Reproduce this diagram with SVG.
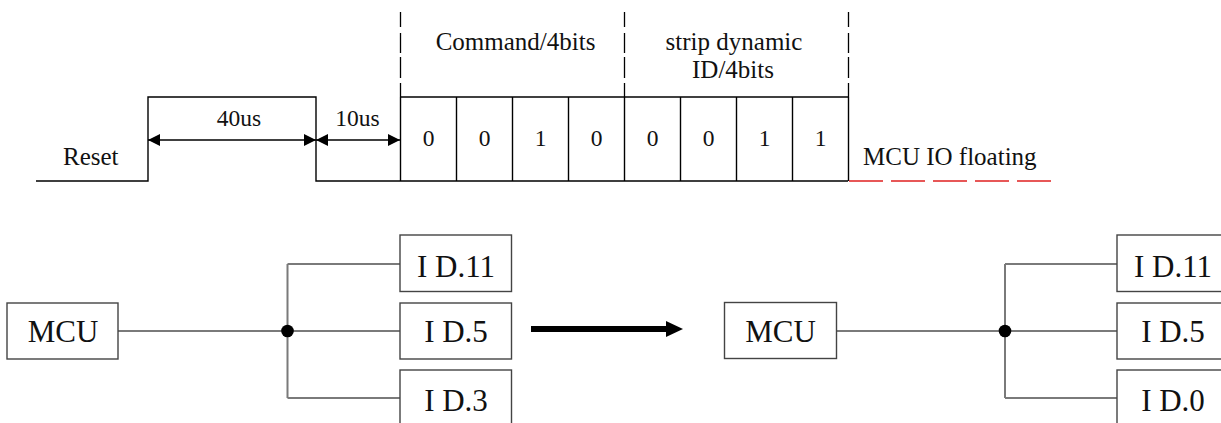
<svg xmlns="http://www.w3.org/2000/svg" width="1221" height="423" viewBox="0 0 1221 423">
<defs>
<style>
text{font-family:"Liberation Serif","Times New Roman",serif;fill:#111}
.t{font-size:25px}
.d{font-size:23.5px;text-anchor:middle}
.b{font-size:31px;text-anchor:middle}
.c{text-anchor:middle}
.sig{fill:none;stroke:#000;stroke-width:1.4}
.dash{stroke:#000;stroke-width:1.3;stroke-dasharray:15 6 20 4 21 5 20}
.box{fill:#fff;stroke:#444;stroke-width:1.4}
.wire{fill:none;stroke:#7a7a7a;stroke-width:2}
.dim{stroke:#000;stroke-width:1.4;marker-start:url(#ah);marker-end:url(#ah)}
</style>
<marker id="ah" viewBox="0 0 12 12" refX="12" refY="6" markerWidth="12" markerHeight="12" markerUnits="userSpaceOnUse" orient="auto-start-reverse">
<path d="M0,0 L12,6 L0,12 z" fill="#000"/>
</marker>
</defs>
<g id="timing">
<polyline class="sig" points="36,181 148,181 148,97 316,97 316,181 848,181"/>
<line class="sig" x1="400" y1="97" x2="848" y2="97"/>
<g id="bits">
<line class="sig" x1="400.5" y1="97" x2="400.5" y2="181"/>
<line class="sig" x1="456.5" y1="97" x2="456.5" y2="181"/>
<line class="sig" x1="512.5" y1="97" x2="512.5" y2="181"/>
<line class="sig" x1="568.5" y1="97" x2="568.5" y2="181"/>
<line class="sig" x1="624.5" y1="97" x2="624.5" y2="181"/>
<line class="sig" x1="680.5" y1="97" x2="680.5" y2="181"/>
<line class="sig" x1="736.5" y1="97" x2="736.5" y2="181"/>
<line class="sig" x1="792.5" y1="97" x2="792.5" y2="181"/>
<line class="sig" x1="848.5" y1="97" x2="848.5" y2="181"/>
<text class="d" x="428.5" y="146">0</text>
<text class="d" x="484.5" y="146">0</text>
<text class="d" x="540.5" y="146">1</text>
<text class="d" x="596.5" y="146">0</text>
<text class="d" x="652.5" y="146">0</text>
<text class="d" x="708.5" y="146">0</text>
<text class="d" x="764.5" y="146">1</text>
<text class="d" x="820.5" y="146">1</text>
</g>
<line class="dash" x1="400.5" y1="12" x2="400.5" y2="97"/>
<line class="dash" x1="624.5" y1="12" x2="624.5" y2="97"/>
<line class="dash" x1="848.5" y1="12" x2="848.5" y2="97"/>
<line x1="849" y1="181" x2="1053" y2="181" stroke="#e02020" stroke-width="1.5" stroke-dasharray="34 8"/>
<line class="dim" x1="148" y1="140" x2="316" y2="140"/>
<line class="dim" x1="316" y1="140" x2="400" y2="140"/>
<text class="t" x="63" y="165">Reset</text>
<text class="d" x="239" y="126">40us</text>
<text class="d" x="357.5" y="126">10us</text>
<text class="t c" x="515.5" y="50">Command/4bits</text>
<text class="t c" x="734" y="50">strip dynamic</text>
<text class="t c" x="733" y="78">ID/4bits</text>
<text class="t" x="863" y="165">MCU IO floating</text>
</g>
<g id="connectors">
<path class="wire" d="M118,331 H287.5 M287.5,264 V398 M287.5,264 H400 M287.5,331 H400 M287.5,398 H400"/>
<circle cx="287.5" cy="331" r="6.3" fill="#000"/>
<path class="wire" d="M837,331 H1005 M1005,264 V398 M1005,264 H1117 M1005,331 H1117 M1005,398 H1117"/>
<circle cx="1005" cy="331" r="6.3" fill="#000"/>
<g id="bigArrow">
<rect x="531" y="326" width="137" height="6" fill="#000"/>
<polygon points="666,321 683,329 666,337" fill="#000"/>
</g>
</g>
<g id="mcu1"><rect class="box" x="7" y="303" width="111" height="56"/><text class="b" x="63" y="342">MCU</text></g>
<g id="id11a"><rect class="box" x="400" y="235" width="111.5" height="56.5"/><text class="b" x="456" y="277">I D.11</text></g>
<g id="id5a"><rect class="box" x="400" y="303" width="111.5" height="56"/><text class="b" x="456" y="342">I D.5</text></g>
<g id="id3"><rect class="box" x="400" y="370" width="111.5" height="60"/><text class="b" x="456" y="411">I D.3</text></g>
<g id="mcu2"><rect class="box" x="724.5" y="302.5" width="112" height="56"/><text class="b" x="780.5" y="342">MCU</text></g>
<g id="id11b"><rect class="box" x="1117" y="235" width="120" height="56.5"/><text class="b" x="1173" y="277">I D.11</text></g>
<g id="id5b"><rect class="box" x="1117" y="303" width="120" height="56"/><text class="b" x="1173" y="342">I D.5</text></g>
<g id="id0"><rect class="box" x="1117" y="370" width="120" height="60"/><text class="b" x="1173" y="411">I D.0</text></g>
</svg>
